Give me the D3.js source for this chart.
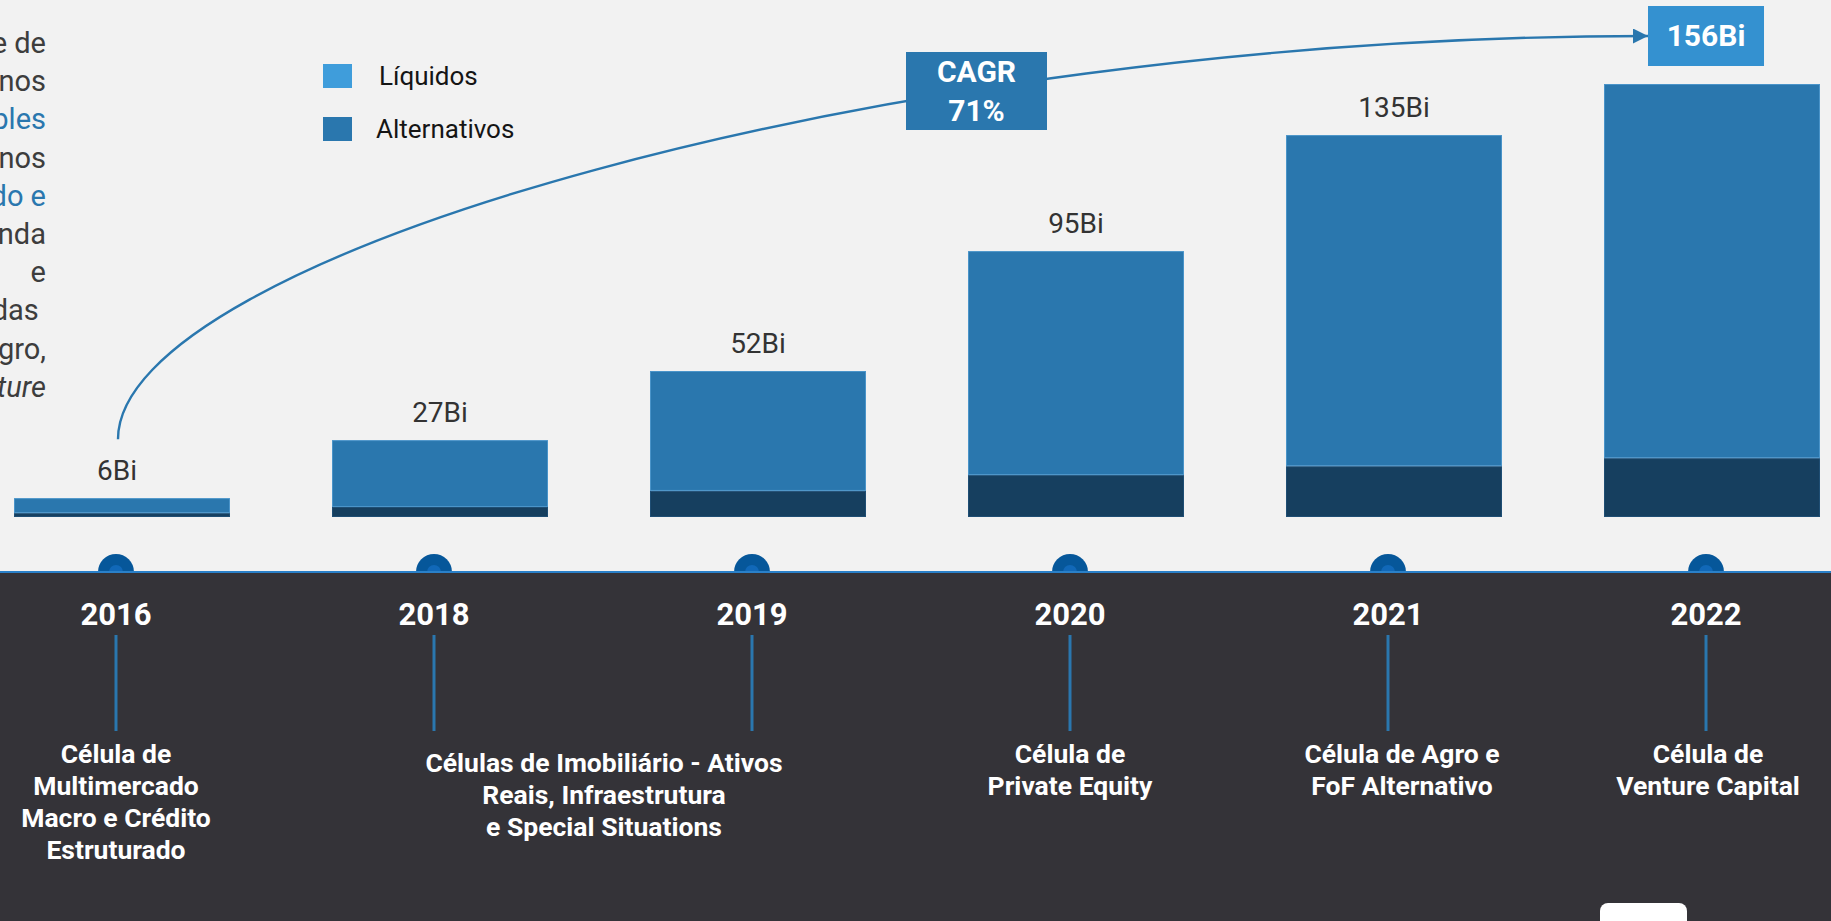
<!DOCTYPE html>
<html>
<head>
<meta charset="utf-8">
<script src="https://cdn.jsdelivr.net/npm/d3@7"></script>
<style>
  body { margin: 0; background: #f2f2f2; overflow: hidden; }
  svg { display: block; font-family: Roboto, "Noto Sans", sans-serif; }
</style>
</head>
<body>
<svg width="1831" height="921"></svg>
<script>
// data (Bi)
var years = ["2016", "2018", "2019", "2020", "2021", "2022"];
var liquidos = [5.4, 24.1, 43.2, 80.7, 119.3, 134.8];
var alternativos = [1.4, 3.6, 9.4, 15.1, 18.3, 21.2];
var totalLabels = ["6Bi", "27Bi", "52Bi", "95Bi", "135Bi", "156Bi"];
var legendLabels = ["Líquidos", "Alternativos"];
var cagrLines = ["CAGR", "71%"];

// timeline captions, years each one spans
var captionYears = [["2016"], ["2018", "2019"], ["2020"], ["2021"], ["2022"]];
var captionLines = [
  ["Célula de", "Multimercado", "Macro e Crédito", "Estruturado"],
  ["Células de Imobiliário - Ativos", "Reais, Infraestrutura", "e Special Situations"],
  ["Célula de", "Private Equity"],
  ["Célula de Agro e", "FoF Alternativo"],
  ["Célula de", "Venture Capital"]
];

// cut-off paragraph on the left edge
var paraLines = ["e de", "nos", "bles", "nos", "do e", "nda", "e", "das\u00a0", "gro,", "ture"];
var paraBlue = [2, 4];
var paraItalic = [9];

var width = 1831, height = 921;
var panelTop = 572;
var captionNudge = [0, 11, 0, 14, 2]; // layout only
var svg = d3.select("svg");

var x = d3.scaleBand()
  .domain(years)
  .range([14, 1820])
  .paddingInner(0.3208)
  .paddingOuter(0);

var y = d3.scaleLinear()
  .domain([0, 156])
  .range([517, 84]);

// timeline markers sit a little left of bar centres
function mx(yr) { return x(yr) + x.bandwidth() / 2 - 6; }

var rows = years.map(function(yr, i) {
  return { year: yr, alternativos: alternativos[i], liquidos: liquidos[i] };
});
var stack = d3.stack().keys(["alternativos", "liquidos"])(rows);
var barColor = { alternativos: "#163f5f", liquidos: "#2a77ae" };
var barStroke = { alternativos: "#1f4e74", liquidos: "#4a94c9" };

// left paragraph
svg.append("g").selectAll("text")
  .data(paraLines)
  .enter().append("text")
  .attr("x", 46)
  .attr("y", function(d, i) { return 53 + i * 38.2; })
  .attr("text-anchor", "end")
  .style("font-size", "29px")
  .style("font-style", function(d, i) { return paraItalic.indexOf(i) >= 0 ? "italic" : "normal"; })
  .style("fill", function(d, i) { return paraBlue.indexOf(i) >= 0 ? "#2a77ae" : "#3d3d3d"; })
  .text(function(d) { return d; });

// legend
var legend = svg.append("g").attr("transform", "translate(323,64)");
var lg = legend.selectAll("g")
  .data(legendLabels)
  .enter().append("g")
  .attr("transform", function(d, i) { return "translate(0," + (i * 53) + ")"; });
lg.append("rect")
  .attr("width", 29).attr("height", 24)
  .style("fill", function(d, i) { return i === 0 ? "#3f9ddb" : "#2a77ae"; });
lg.append("text")
  .attr("x", function(d, i) { return i === 0 ? 56 : 53; })
  .attr("y", 21)
  .style("font-size", "26px")
  .style("fill", "#151515")
  .text(function(d) { return d; });

// stacked bars
svg.append("g").selectAll("g")
  .data(stack)
  .enter().append("g")
  .style("fill", function(d) { return barColor[d.key]; })
  .style("stroke", function(d) { return barStroke[d.key]; })
  .style("stroke-width", 1)
  .selectAll("rect")
  .data(function(d) { return d; })
  .enter().append("rect")
  .attr("x", function(d) { return x(d.data.year) + 0.5; })
  .attr("y", function(d) { return y(d[1]) + 0.5; })
  .attr("width", x.bandwidth() - 1)
  .attr("height", function(d) { return Math.max(0, y(d[0]) - y(d[1]) - 1); });

// total labels (last one goes in the box)
svg.append("g").selectAll("text")
  .data(years.slice(0, 5))
  .enter().append("text")
  .attr("x", function(d, i) { return i === 0 ? mx(d) + 1 : x(d) + x.bandwidth() / 2; })
  .attr("y", function(d, i) { return y(liquidos[i] + alternativos[i]) - 18; })
  .attr("text-anchor", "middle")
  .style("font-size", "28px")
  .style("fill", "#333")
  .text(function(d, i) { return totalLabels[i]; });

// CAGR curve from the first label to the last total box
var boxW = 116, boxH = 60;
var bx = mx(years[5]) - boxW / 2, by = 6;
var x0 = mx(years[0]) + 2, y0 = y(liquidos[0] + alternativos[0]) - 59;
var x1 = bx, y1 = by + boxH / 2;

svg.append("defs").append("marker")
  .attr("id", "arrow")
  .attr("viewBox", "0 0 10 10")
  .attr("refX", 10).attr("refY", 5)
  .attr("markerWidth", 15).attr("markerHeight", 15)
  .attr("markerUnits", "userSpaceOnUse")
  .attr("orient", "auto")
  .append("path")
  .attr("d", "M0,0L10,5L0,10Z")
  .style("fill", "#2a77ae");

var curve = d3.path();
curve.moveTo(x0, y0);
curve.bezierCurveTo(x0, y0 - 0.45 * (y0 - y1), x1 - 0.5 * (x1 - x0), y1, x1, y1);
svg.append("path")
  .attr("d", curve.toString())
  .style("fill", "none")
  .style("stroke", "#2a77ae")
  .style("stroke-width", 2.4)
  .attr("marker-end", "url(#arrow)");

// CAGR box
var cagr = svg.append("g").attr("transform", "translate(906,52)");
cagr.append("rect").attr("width", 141).attr("height", 78).style("fill", "#2a77ae");
cagr.selectAll("text")
  .data(cagrLines)
  .enter().append("text")
  .attr("x", 70.5)
  .attr("y", function(d, i) { return 30 + i * 39; })
  .attr("text-anchor", "middle")
  .style("font-size", "30px")
  .style("font-weight", "bold")
  .style("fill", "#fff")
  .text(function(d) { return d; });

// 156Bi box
svg.append("rect")
  .attr("x", bx).attr("y", by)
  .attr("width", boxW).attr("height", boxH)
  .style("fill", "#3491d0");
svg.append("text")
  .attr("x", bx + boxW / 2).attr("y", by + 40)
  .attr("text-anchor", "middle")
  .style("font-size", "30px")
  .style("font-weight", "bold")
  .style("fill", "#fff")
  .text(totalLabels[5]);

// timeline markers (half hidden by the panel)
var marks = svg.append("g").selectAll("g")
  .data(years)
  .enter().append("g")
  .attr("transform", function(d) { return "translate(" + mx(d) + "," + panelTop + ")"; });
marks.append("circle").attr("r", 18).style("fill", "#06579a");
marks.append("circle").attr("r", 7).style("fill", "#1168b8");

// dark panel
svg.append("rect")
  .attr("x", 0).attr("y", panelTop)
  .attr("width", width).attr("height", height - panelTop)
  .style("fill", "#343338");
svg.append("line")
  .attr("x1", 0).attr("x2", width)
  .attr("y1", panelTop).attr("y2", panelTop)
  .style("stroke", "#2a80c8")
  .style("stroke-width", 2);

// years + ticks
var yl = svg.append("g").selectAll("g")
  .data(years)
  .enter().append("g")
  .attr("transform", function(d) { return "translate(" + mx(d) + ",0)"; });
yl.append("text")
  .attr("y", 625)
  .attr("text-anchor", "middle")
  .style("font-size", "31px")
  .style("font-weight", "bold")
  .style("fill", "#fff")
  .text(function(d) { return d; });
yl.append("line")
  .attr("y1", 635).attr("y2", 731)
  .style("stroke", "#2a77ae")
  .style("stroke-width", 3);

// captions
var cap = svg.append("g").selectAll("text")
  .data(captionLines)
  .enter().append("text")
  .attr("transform", function(d, i) {
    var ys = captionYears[i];
    var cx = d3.mean(ys, function(v) { return mx(v); }) + captionNudge[i];
    return "translate(" + cx + "," + (ys.length > 1 ? 772 : 763) + ")";
  })
  .attr("text-anchor", "middle")
  .style("font-size", "26.5px")
  .style("font-weight", "bold")
  .style("fill", "#fff");
cap.selectAll("tspan")
  .data(function(d) { return d; })
  .enter().append("tspan")
  .attr("x", 0)
  .attr("y", function(d, i) { return i * 32; })
  .text(function(d) { return d; });

// white tab at the bottom edge
svg.append("rect")
  .attr("x", 1600).attr("y", 903)
  .attr("width", 87).attr("height", 30)
  .attr("rx", 8)
  .style("fill", "#fff");
</script>
</body>
</html>
